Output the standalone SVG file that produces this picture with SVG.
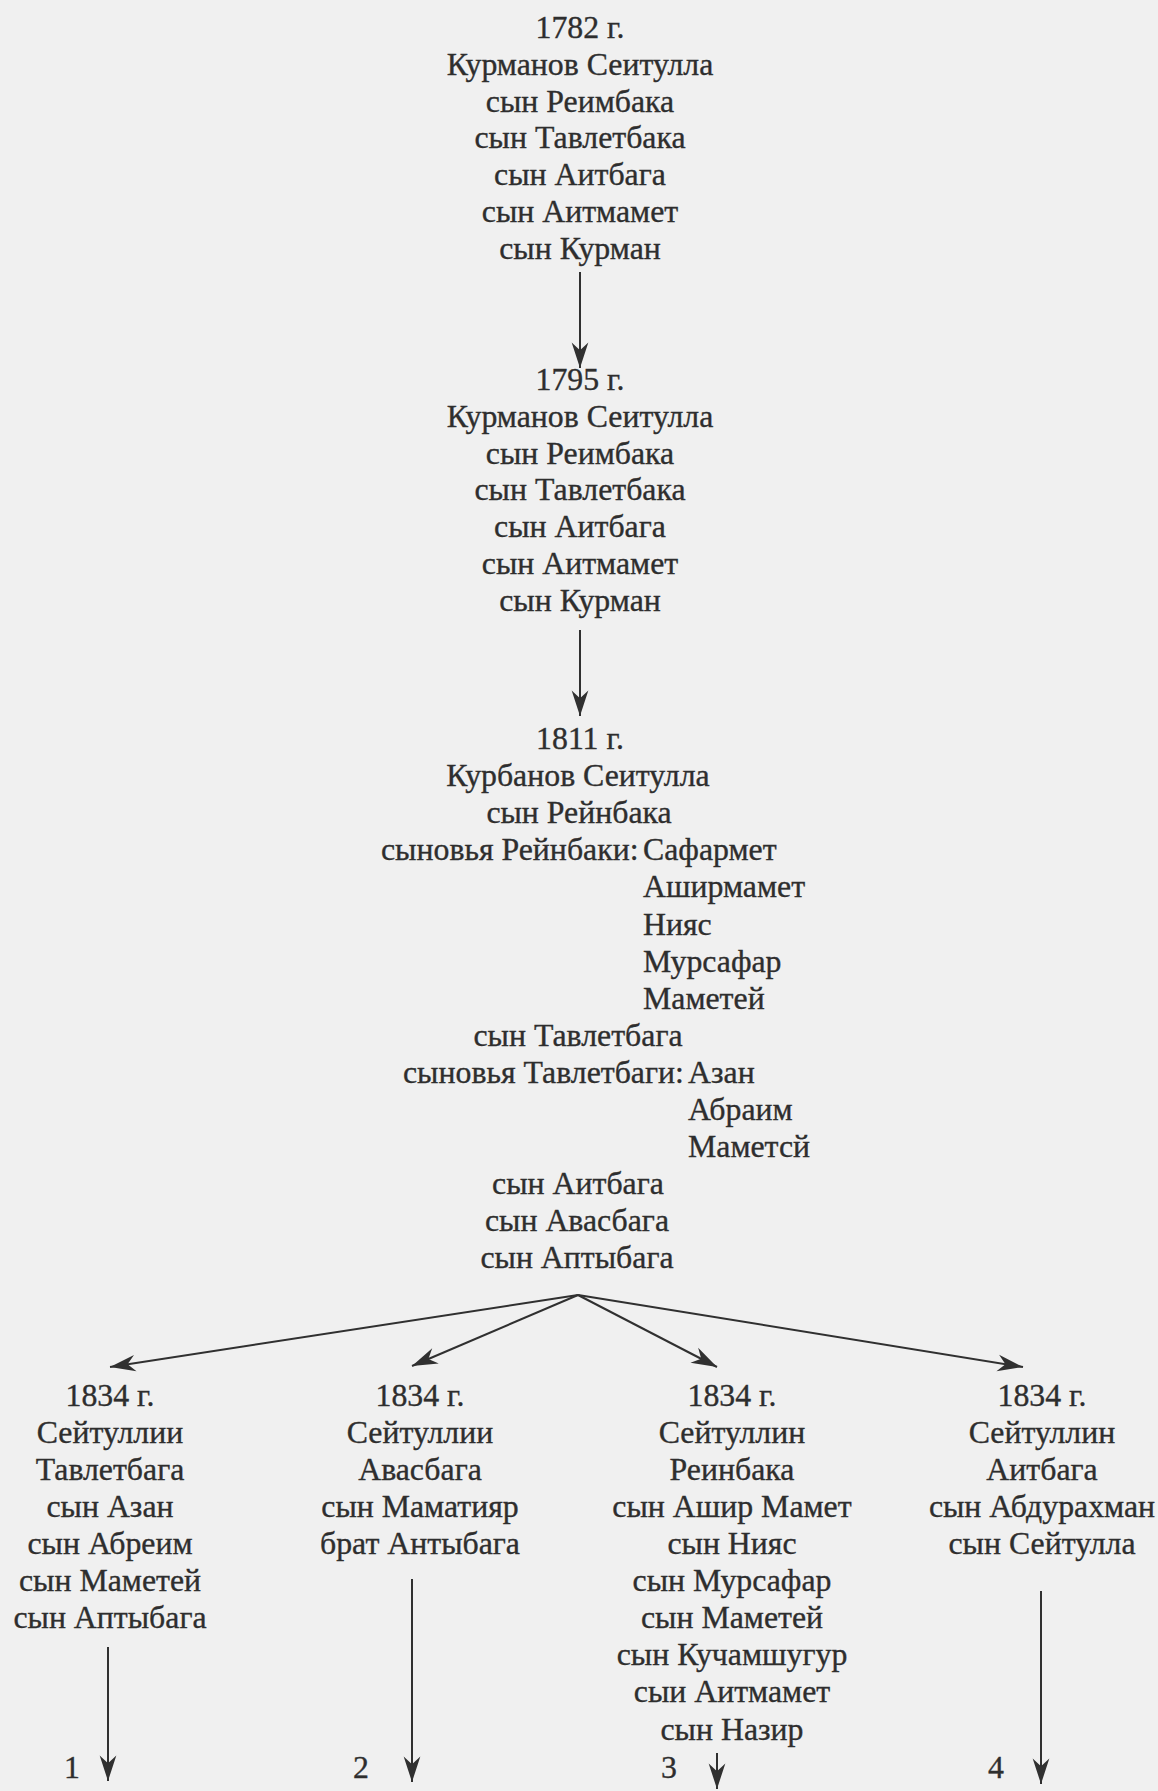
<svg xmlns="http://www.w3.org/2000/svg" width="1158" height="1791" viewBox="0 0 1158 1791">
<defs>
<style>
text{font-family:"Liberation Serif","Times New Roman",serif;font-size:31.8px;fill:#2e2e2e;stroke:#2e2e2e;stroke-width:0.35}
.c{text-anchor:middle}
.s{text-anchor:start}
.e{stroke:#303030;stroke-width:2;fill:none}
</style>
<marker id="ah" markerUnits="userSpaceOnUse" markerWidth="30" markerHeight="20" viewBox="-24 -9 26 18" refX="0" refY="0" orient="auto">
<path d="M0,0 L-23,-7.5 L-16,0 L-23,7.5 Z" fill="#303030"/>
</marker>
</defs>
<rect width="1158" height="1791" fill="#f0f0f0"/>

<g id="n1782" class="node">
<text class="c" x="580" y="38">1782 г.</text>
<text class="c" x="580" y="75">Курманов Сеитулла</text>
<text class="c" x="580" y="112">сын Реимбака</text>
<text class="c" x="580" y="148">сын Тавлетбака</text>
<text class="c" x="580" y="185">сын Аитбага</text>
<text class="c" x="580" y="222">сын Аитмамет</text>
<text class="c" x="580" y="259">сын Курман</text>
</g>

<g id="n1795" class="node">
<text class="c" x="580" y="390">1795 г.</text>
<text class="c" x="580" y="427">Курманов Сеитулла</text>
<text class="c" x="580" y="464">сын Реимбака</text>
<text class="c" x="580" y="500">сын Тавлетбака</text>
<text class="c" x="580" y="537">сын Аитбага</text>
<text class="c" x="580" y="574">сын Аитмамет</text>
<text class="c" x="580" y="611">сын Курман</text>
</g>

<g id="n1811" class="node">
<text class="c" x="580" y="749">1811 г.</text>
<text class="c" x="578" y="786">Курбанов Сеитулла</text>
<text class="c" x="579" y="823">сын Рейнбака</text>
<text class="s" y="860"><tspan x="381">сыновья Рейнбаки:</tspan><tspan x="643">Сафармет</tspan></text>
<text class="s" x="643" y="897">Аширмамет</text>
<text class="s" x="643" y="935">Нияс</text>
<text class="s" x="643" y="972">Мурсафар</text>
<text class="s" x="643" y="1009">Маметей</text>
<text class="c" x="578" y="1046">сын Тавлетбага</text>
<text class="s" y="1083"><tspan x="403">сыновья Тавлетбаги:</tspan><tspan x="688">Азан</tspan></text>
<text class="s" x="688" y="1120">Абраим</text>
<text class="s" x="688" y="1157">Маметсй</text>
<text class="c" x="578" y="1194">сын Аитбага</text>
<text class="c" x="577" y="1231">сын Авасбага</text>
<text class="c" x="577" y="1268">сын Аптыбага</text>
</g>

<g id="n1834a" class="node">
<text class="c" x="110" y="1406">1834 г.</text>
<text class="c" x="110" y="1443">Сейтуллии</text>
<text class="c" x="110" y="1480">Тавлетбага</text>
<text class="c" x="110" y="1517">сын Азан</text>
<text class="c" x="110" y="1554">сын Абреим</text>
<text class="c" x="110" y="1591">сын Маметей</text>
<text class="c" x="110" y="1628">сын Аптыбага</text>
</g>

<g id="n1834b" class="node">
<text class="c" x="420" y="1406">1834 г.</text>
<text class="c" x="420" y="1443">Сейтуллии</text>
<text class="c" x="420" y="1480">Авасбага</text>
<text class="c" x="420" y="1517">сын Маматияр</text>
<text class="c" x="420" y="1554">брат Антыбага</text>
</g>

<g id="n1834c" class="node">
<text class="c" x="732" y="1406">1834 г.</text>
<text class="c" x="732" y="1443">Сейтуллин</text>
<text class="c" x="732" y="1480">Реинбака</text>
<text class="c" x="732" y="1517">сын Ашир Мамет</text>
<text class="c" x="732" y="1554">сын Нияс</text>
<text class="c" x="732" y="1591">сын Мурсафар</text>
<text class="c" x="732" y="1628">сын Маметей</text>
<text class="c" x="732" y="1665">сын Кучамшугур</text>
<text class="c" x="732" y="1702">сыи Аитмамет</text>
<text class="c" x="732" y="1740">сын Назир</text>
</g>

<g id="n1834d" class="node">
<text class="c" x="1042" y="1406">1834 г.</text>
<text class="c" x="1042" y="1443">Сейтуллин</text>
<text class="c" x="1042" y="1480">Аитбага</text>
<text class="c" x="1042" y="1517">сын Абдурахман</text>
<text class="c" x="1042" y="1554">сын Сейтулла</text>
</g>

<g id="connectors">
<line class="e" x1="580" y1="272" x2="580" y2="368" marker-end="url(#ah)"/>
<line class="e" x1="580" y1="630" x2="580" y2="716" marker-end="url(#ah)"/>
<line class="e" x1="578" y1="1295" x2="110" y2="1367" marker-end="url(#ah)"/>
<line class="e" x1="578" y1="1295" x2="412" y2="1366" marker-end="url(#ah)"/>
<line class="e" x1="578" y1="1295" x2="717" y2="1367" marker-end="url(#ah)"/>
<line class="e" x1="578" y1="1295" x2="1023" y2="1367" marker-end="url(#ah)"/>
<line class="e" x1="108" y1="1647" x2="108" y2="1781" marker-end="url(#ah)"/>
<line class="e" x1="412" y1="1579" x2="412" y2="1782" marker-end="url(#ah)"/>
<line class="e" x1="717" y1="1753" x2="717" y2="1789" marker-end="url(#ah)"/>
<line class="e" x1="1041" y1="1591" x2="1041" y2="1784" marker-end="url(#ah)"/>
</g>

<g id="refs">
<text class="c" x="72" y="1778">1</text>
<text class="c" x="361" y="1778">2</text>
<text class="c" x="669" y="1778">3</text>
<text class="c" x="996" y="1778">4</text>
</g>
</svg>
